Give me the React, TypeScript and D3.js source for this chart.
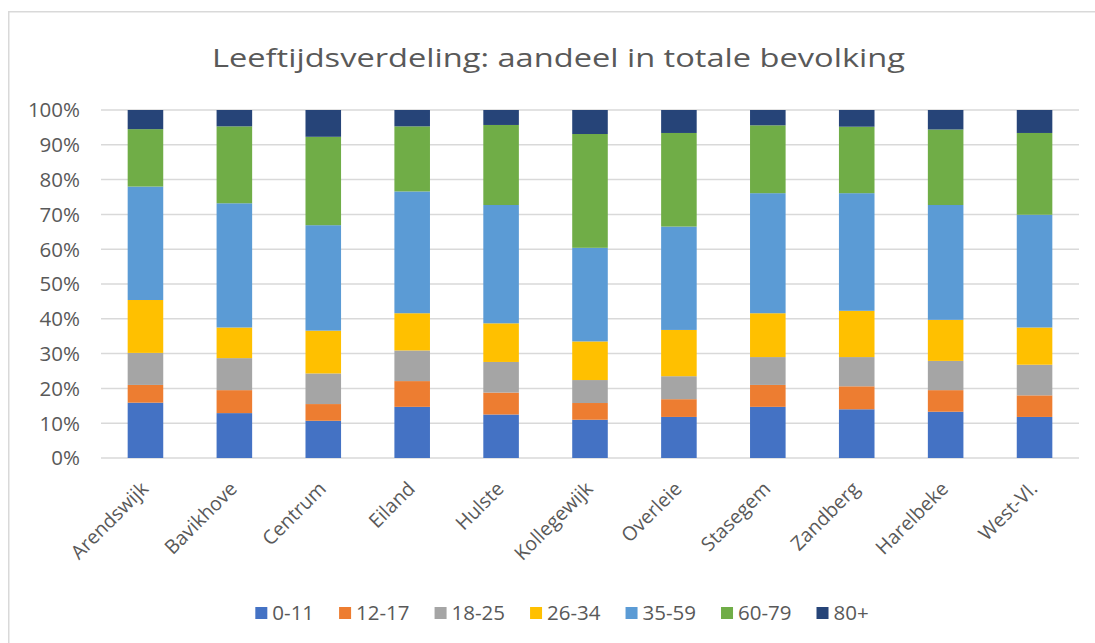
import React, { useEffect, useRef } from "react";
import * as d3 from "d3";

const categories = ["Arendswijk", "Bavikhove", "Centrum", "Eiland", "Hulste", "Kollegewijk", "Overleie", "Stasegem", "Zandberg", "Harelbeke", "West-Vl."];
const seriesNames = ["0-11", "12-17", "18-25", "26-34", "35-59", "60-79", "80+"];
const age0_11 = [15.9, 12.9, 10.7, 14.7, 12.5, 11.0, 11.8, 14.7, 14.0, 13.3, 11.8];
const age12_17 = [5.1, 6.6, 4.8, 7.4, 6.3, 4.8, 5.1, 6.3, 6.6, 6.2, 6.2];
const age18_25 = [9.2, 9.2, 8.8, 8.8, 8.8, 6.6, 6.6, 8.0, 8.4, 8.4, 8.8];
const age26_34 = [15.2, 8.8, 12.3, 10.7, 11.1, 11.1, 13.3, 12.6, 13.3, 11.8, 10.7];
const age35_59 = [32.6, 35.7, 30.3, 35.0, 34.0, 26.9, 29.7, 34.5, 33.8, 33.0, 32.4];
const age60_79 = [16.5, 22.1, 25.4, 18.7, 23.0, 32.7, 26.9, 19.5, 19.1, 21.7, 23.5];
const age80plus = [5.5, 4.7, 7.7, 4.7, 4.3, 6.9, 6.6, 4.4, 4.8, 5.6, 6.6];
const yTicks = [0, 10, 20, 30, 40, 50, 60, 70, 80, 90, 100];
const colors = ["#4472C4", "#ED7D31", "#A5A5A5", "#FFC000", "#5B9BD5", "#70AD47", "#264478"];
const title = "Leeftijdsverdeling: aandeel in totale bevolking";

const W = 1095;
const H = 643;
const FONT = "'Open Sans', 'Noto Sans', sans-serif";
const TXT = "#595959";

export default function App() {
  const ref = useRef<SVGSVGElement>(null);

  useEffect(() => {
    const svg = d3.select(ref.current);
    svg.selectAll("*").remove();

    const seriesValues = [age0_11, age12_17, age18_25, age26_34, age35_59, age60_79, age80plus];
    const rows = categories.map((c, i) => {
      const r: any = { cat: c };
      seriesNames.forEach((s, k) => (r[s] = seriesValues[k][i]));
      return r;
    });
    const stack = d3.stack<any>().keys(seriesNames)(rows);

    const x = d3.scaleBand().domain(categories).range([101, 1079]).paddingInner(0.6).paddingOuter(0.3);
    const y = d3.scaleLinear().domain([0, 100]).range([458, 110]);

    // frame
    svg.append("rect").attr("x", 8.75).attr("y", 11.75).attr("width", 1200).attr("height", 700)
      .attr("fill", "white").attr("stroke", "#d9d9d9").attr("stroke-width", 1.5);

    // title
    svg.append("text").attr("x", 558.5).attr("y", 67).attr("text-anchor", "middle")
      .attr("font-family", FONT).attr("font-size", 25).attr("fill", TXT)
      .attr("textLength", 693).attr("lengthAdjust", "spacingAndGlyphs")
      .text(title);

    // gridlines
    svg.append("g").selectAll("line").data(yTicks).join("line")
      .attr("x1", 101).attr("x2", 1079)
      .attr("y1", (d) => y(d)).attr("y2", (d) => y(d))
      .attr("stroke", "#d9d9d9").attr("stroke-width", 1.5);

    // y labels
    svg.append("g").selectAll("text").data(yTicks).join("text")
      .attr("x", 80).attr("y", (d) => y(d)).attr("dy", "0.36em")
      .attr("text-anchor", "end").attr("font-family", FONT).attr("font-size", 20.5).attr("fill", TXT)
      .text((d) => d3.format(".0f")(d) + "%");

    // bars
    svg.append("g").selectAll("g").data(stack).join("g")
      .attr("fill", (d, i) => colors[i])
      .selectAll("rect").data((d) => d).join("rect")
      .attr("x", (d: any) => x(d.data.cat)!)
      .attr("width", x.bandwidth())
      .attr("y", (d) => y(d[1]))
      .attr("height", (d) => y(d[0]) - y(d[1]));

    // x labels
    svg.append("g").selectAll("text").data(categories).join("text")
      .attr("transform", (d) => `translate(${x(d)! + x.bandwidth() / 2 - 1},${485}) rotate(-45)`)
      .attr("dy", "0.36em").attr("text-anchor", "end")
      .attr("font-family", FONT).attr("font-size", 19.5).attr("fill", TXT)
      .text((d) => d);

    // legend
    const leg = svg.append("g");
    const items = leg.selectAll("g").data(seriesNames).join("g");
    items.append("rect").attr("width", 12).attr("height", 12).attr("y", 607)
      .attr("fill", (d, i) => colors[i]);
    const texts = items.append("text").attr("y", 613).attr("dy", "0.36em")
      .attr("font-family", FONT).attr("font-size", 20.5).attr("fill", TXT).text((d) => d);
    const widths: number[] = [];
    texts.each(function () { widths.push((this as SVGTextElement).getComputedTextLength()); });
    const sq = 12, gap = 5, itemGap = 25;
    const itemW = widths.map((w) => sq + gap + w);
    const total = d3.sum(itemW) + itemGap * (itemW.length - 1);
    let cx = 562 - total / 2;
    items.each(function (d, i) {
      const g = d3.select(this);
      g.select("rect").attr("x", cx);
      g.select("text").attr("x", cx + sq + gap);
      cx += itemW[i] + itemGap;
    });
  }, []);

  return (
    <svg ref={ref} width={W} height={H} style={{ position: "absolute", left: 0, top: 0, background: "white" }} />
  );
}
